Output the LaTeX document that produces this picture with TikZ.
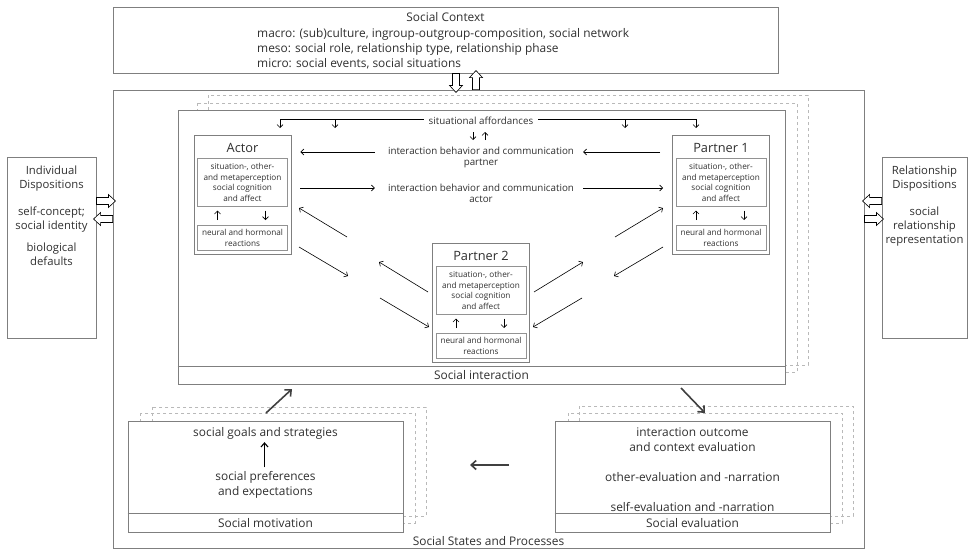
\documentclass[tikz,border=0pt]{standalone}
\usepackage{fontspec}
\setmainfont{Open Sans}
\usetikzlibrary{arrows.meta,positioning}

\definecolor{boxgray}{HTML}{7F7F7F}
\definecolor{txtgray}{HTML}{303030}

\tikzset{
  blockarrow/.pic={
    \draw[line width=0.6pt, fill=white] (0,-3.5) -- (12,-3.5) -- (12,-6.5) -- (19,0)
      -- (12,6.5) -- (12,3.5) -- (0,3.5) -- cycle;
  }
}

\begin{document}
\begin{tikzpicture}[x=1pt, y=-1pt, >={Straight Barb[length=3pt,width=6pt]},
  box/.style={draw=boxgray, line width=0.9pt, fill=white, inner sep=0pt},
  inbox/.style={draw=boxgray!85, line width=0.6pt, fill=white, inner sep=0pt, minimum width=90pt},
  frame/.style={draw=gray!55, dashed, line width=0.5pt},
  lbl/.style={font=\fontsize{11.9}{15}\selectfont, text=txtgray, align=center, inner sep=1pt},
  side/.style={font=\fontsize{11.3}{14}\selectfont, text=txtgray, align=center, inner sep=1pt},
  small/.style={font=\fontsize{9.8}{11.3}\selectfont, text=txtgray, align=center, inner sep=1pt},
  tiny/.style={font=\fontsize{8.2}{10.7}\selectfont, text=txtgray, align=center},
  flow/.style={->, line width=0.6pt},
  bigflow/.style={-{Straight Barb[length=5pt,width=9pt]}, line width=1.6pt, draw=black!75}
]
\useasboundingbox (0,0) rectangle (970,549);

% outer boxes
\node[box, minimum width=751pt, minimum height=458pt] (main) at (488.5,319) {};
\node[lbl, anchor=base] (mainlbl) at (488.5,545) {Social States and Processes};
\node[box, minimum width=665pt, minimum height=66pt] (ctx) at (445.5,40) {};
\node[lbl] (ctxlbl) at (445.5,17) {Social Context};
\node[lbl, align=left, anchor=west] (ctxtxt) at (256,48.5)
  {macro: (sub)culture, ingroup-outgroup-composition, social network\\
   meso: social role, relationship type, relationship phase\\
   micro: social events, social situations};
\node[box, minimum width=89pt, minimum height=181pt] (ind) at (51.5,247.5) {};
\node[side, anchor=north] (indtxt) at (51.5,164.5)
  {Individual\\Dispositions\\[13pt]self-concept;\\social identity\\[8pt]biological\\defaults};
\node[box, minimum width=85pt, minimum height=181pt] (rel) at (924.5,247.5) {};
\node[side, anchor=north] (reltxt) at (924.5,164.5)
  {Relationship\\Dispositions\\[13pt]social\\relationship\\representation};

% exchange with context and dispositions
\pic[rotate=-90] at ([xshift=10.5pt]ctx.south) {blockarrow};
\pic[rotate=90] at ([xshift=30.5pt]ctx.south |- main.north) {blockarrow};
\pic at ([yshift=46.5pt]ind.east) {blockarrow};
\pic[rotate=180] at ([yshift=28.5pt]ind.east -| main.west) {blockarrow};
\pic[rotate=180] at ([yshift=46.5pt]rel.west) {blockarrow};
\pic at ([yshift=28.5pt]rel.west -| main.east) {blockarrow};

% social interaction
\draw[frame] (208,95) rectangle (808,365);
\draw[frame] (197,103) rectangle (797,372);
\node[box, minimum width=607pt, minimum height=274pt] (inter) at (481.5,247) {};
\draw[boxgray, line width=0.9pt] (inter.west |- 0,366) -- (inter.east |- 0,366);
\node[lbl] (interlbl) at (481.5,375.5) {Social interaction};

\foreach \n/\x/\y/\t in {actor/242.5/135/Actor, pone/721/135/Partner 1, ptwo/481/243/Partner 2} {
  \node[box, minimum width=97pt, minimum height=119pt, anchor=north] (\n) at (\x,\y) {};
  \node[lbl, font=\fontsize{12.8}{14}\selectfont] (\n-t) at (\x,{\y+12.5}) {\t};
  \node[inbox, tiny, minimum height=48pt, anchor=north] (\n-c) at (\x,{\y+23})
    {situation-, other-\\and metaperception\\social cognition\\and affect};
  \node[inbox, tiny, minimum height=25pt, anchor=north] (\n-n) at (\x,{\y+90})
    {neural and hormonal\\reactions};
  \draw[flow, shorten <=5pt, shorten >=4pt] ([xshift=-25pt]\n-n.north) -- ([xshift=-25pt]\n-c.south);
  \draw[flow, shorten <=4pt, shorten >=5pt] ([xshift=23pt]\n-c.south) -- ([xshift=23pt]\n-n.north);
}

\node[small] (aff) at (481,121) {situational affordances};
\node[small] (ptxt) at (481,157.5) {interaction behavior and communication\\partner};
\node[small] (atxt) at (481,193.5) {interaction behavior and communication\\actor};
\coordinate (prow) at (0,152);
\coordinate (arow) at (0,188);

% affordances
\draw[flow, shorten >=7pt] ([xshift=-4pt]aff.west |- 0,119) -| ([xshift=37.5pt]actor.north);
\draw[flow] (335,119) -- (335,128);
\draw[flow, shorten >=7pt] ([xshift=4pt]aff.east |- 0,119) -| ([xshift=-25pt]pone.north);
\draw[flow] (625,119) -- (625,128);
\draw[flow] (473,132) -- (473,140);
\draw[flow] (485,140) -- (485,132);

% behavior and communication
\draw[flow] ([xshift=-12pt]pone.west |- prow) -- ([xshift=8pt]ptxt.east |- prow);
\draw[flow] ([xshift=-12pt]ptxt.west |- prow) -- ([xshift=9pt]actor.east |- prow);
\draw[flow] ([xshift=9pt]actor.east |- arow) -- ([xshift=-12pt]atxt.west |- arow);
\draw[flow] ([xshift=8pt]atxt.east |- arow) -- ([xshift=-9pt]pone.west |- arow);

% towards and away from partner 2
\foreach \xa/\ya/\xb/\yb in {347/237/299/208, 299/247/348/276, 428/292/379/262, 380/298/429/327,
                             615/237/663/208, 663/247/614/276, 534/292/583/262, 582/298/533/327}
  \draw[flow] (\xa,\ya) -- (\xb,\yb);

% social motivation
\draw[frame] (152,407) rectangle (426,516);
\draw[frame] (140,413) rectangle (415,523);
\node[box, minimum width=275pt, minimum height=111pt] (mot) at (265.5,476.5) {};
\draw[boxgray, line width=0.9pt] (mot.west |- 0,513) -- (mot.east |- 0,513);
\node[lbl] (goals) at (265.5,433) {social goals and strategies};
\node[lbl] (prefs) at (265.5,485) {social preferences\\and expectations};
\node[lbl] (motlbl) at (265.5,523) {Social motivation};
\draw[-{Straight Barb[length=4pt,width=7pt]}, line width=1.1pt, shorten <=3pt, shorten >=2pt]
  ([xshift=-1pt]prefs.north) -- ([xshift=-1pt]goals.south);

% social evaluation
\draw[frame] (579,406) rectangle (853,516);
\draw[frame] (568,413) rectangle (842,523);
\node[box, minimum width=275pt, minimum height=111pt] (eval) at (692.5,476.5) {};
\draw[boxgray, line width=0.9pt] (eval.west |- 0,513) -- (eval.east |- 0,513);
\node[lbl] (outc) at (692.5,440) {interaction outcome\\and context evaluation};
\node[lbl] (other) at (692.5,477) {other-evaluation and -narration};
\node[lbl] (self) at (692.5,506.5) {self-evaluation and -narration};
\node[lbl] (evallbl) at (692.5,523) {Social evaluation};

% process cycle
\draw[bigflow] (266,413) -- (292,389);
\draw[bigflow] (681,388) -- (705,413);
\draw[bigflow] (509,465) -- (470,465);

\end{tikzpicture}
\end{document}
